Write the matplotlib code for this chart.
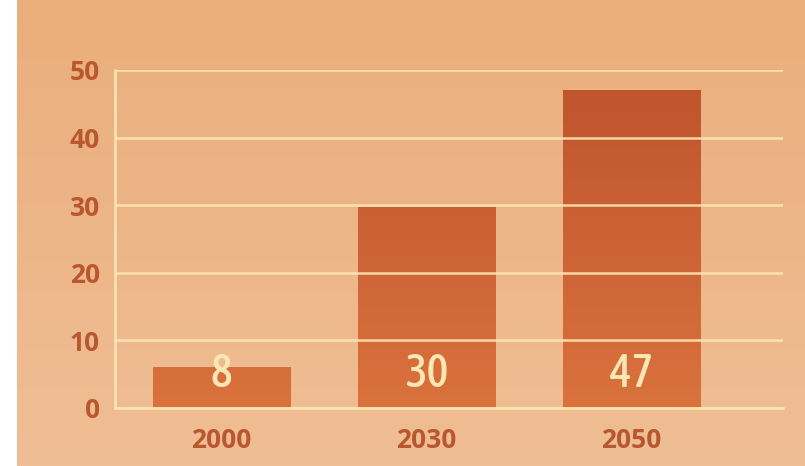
import numpy as np
import matplotlib
matplotlib.use("Agg")
import matplotlib.pyplot as plt
from matplotlib import font_manager
from matplotlib.colors import LinearSegmentedColormap

years = ["2000", "2030", "2050"]
bar_heights = [6.1, 29.8, 47.1]
bar_labels = ["8", "30", "47"]
y_ticks = [0, 10, 20, 30, 40, 50]

TEXT = "#B9572F"
CREAM = "#FBE6B4"


def pick_condensed_font():
    """Find a narrow font for the value labels, fall back to DejaVu Sans."""
    found = []
    for f in font_manager.fontManager.ttflist:
        narrow = ("ondensed" in f.name or "Narrow" in f.name
                  or str(f.stretch) in ("condensed", "semi-condensed", "extra-condensed"))
        if narrow:
            try:
                w = int(f.weight)
            except (TypeError, ValueError):
                w = 700 if "old" in str(f.weight) else 400
            if "talic" in f.fname or "blique" in f.fname:
                continue
            found.append((abs(w - 550), f.fname))
    if not found:
        return font_manager.FontProperties(family="DejaVu Sans", weight="bold")
    found.sort()
    return font_manager.FontProperties(fname=found[0][1])


fig = plt.figure(figsize=(8.05, 4.66), dpi=100)
fig.patch.set_facecolor("white")

# textured-paper style background, light peach gradient
bg = fig.add_axes([17 / 805, 0, 1 - 17 / 805, 1], zorder=0)
bg_cmap = LinearSegmentedColormap.from_list("bg", ["#F0BE95", "#EAAE7B"])
bg.imshow(np.linspace(0, 1, 256).reshape(-1, 1), cmap=bg_cmap, aspect="auto",
          origin="lower", extent=[0, 1, 0, 1])
bg.set_axis_off()

ax = fig.add_axes([115 / 805, 58 / 466, 668 / 805, 338 / 466], zorder=1)
ax.patch.set_alpha(0)

x = np.arange(len(years))
bars = ax.bar(x, bar_heights, width=0.67, color="none", zorder=2)

bar_cmap = LinearSegmentedColormap.from_list("bar", ["#DA723D", "#BE532D"])
grad = np.linspace(0, 1, 256).reshape(-1, 1)
for b in bars:
    im = ax.imshow(grad, cmap=bar_cmap, aspect="auto", origin="lower",
                   extent=[b.get_x(), b.get_x() + b.get_width(), 0, 50], zorder=2)
    im.set_clip_path(b)

label_font = pick_condensed_font()
label_font.set_size(33)
for xi, lab in zip(x, bar_labels):
    ax.text(xi, 5, lab, ha="center", va="center", color=CREAM,
            fontproperties=label_font, zorder=4)

ax.set_xlim(-0.52, 2.74)
ax.set_ylim(0, 50)
ax.set_yticks(y_ticks)
ax.set_xticks(x)
ax.set_xticklabels(years)
ax.grid(axis="y", color=CREAM, linewidth=1.8, alpha=0.9, zorder=3)
ax.set_axisbelow(False)
for s in ["top", "right"]:
    ax.spines[s].set_visible(False)
ax.spines["left"].set_color(CREAM)
ax.spines["left"].set_linewidth(1.8)
ax.spines["bottom"].set_color(CREAM)
ax.spines["bottom"].set_linewidth(1.8)
ax.tick_params(length=0, colors=TEXT, labelsize=19)
ax.tick_params(axis="y", pad=11)
ax.tick_params(axis="x", pad=14)
for t in ax.get_xticklabels() + ax.get_yticklabels():
    t.set_family("Open Sans")
    t.set_fontweight("bold")

plt.savefig("out.png", dpi=100)
plt.close()
